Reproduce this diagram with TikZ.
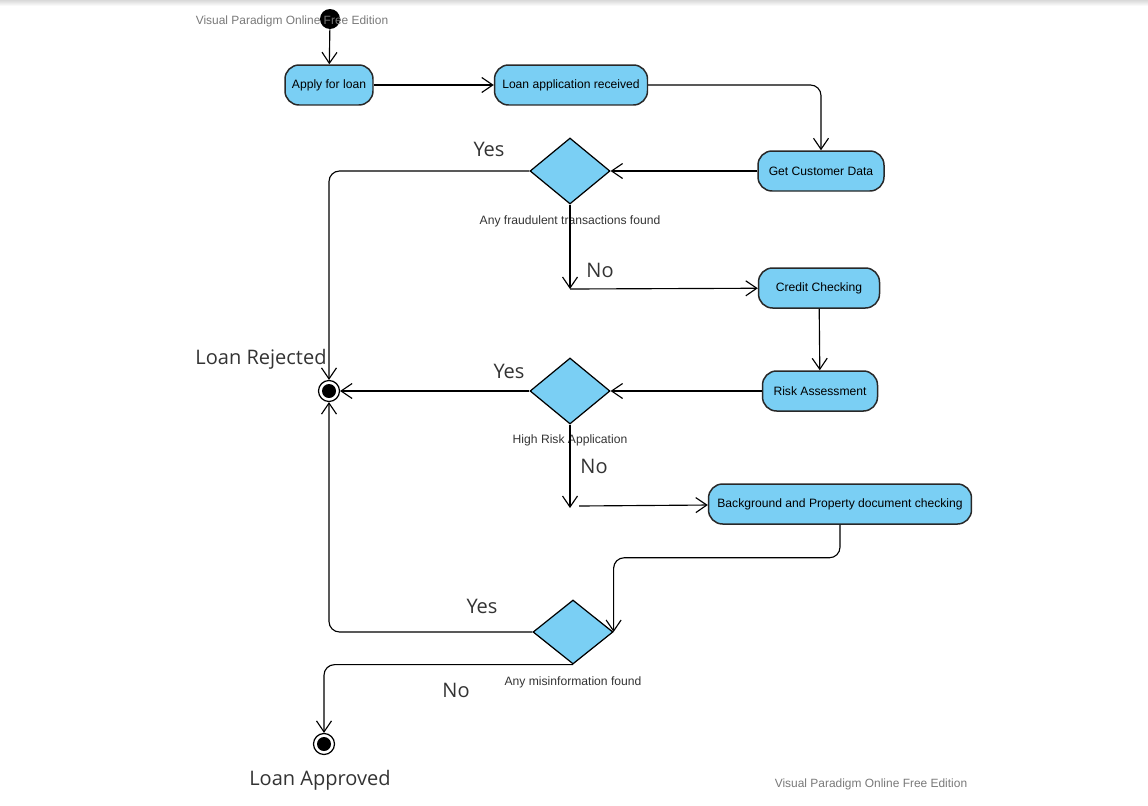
\documentclass[tikz,border=0pt]{standalone}
\usepackage{fontspec}
\setmainfont{Liberation Sans}
\newfontfamily\bigfont{Open Sans}
\usetikzlibrary{positioning, calc, shapes, arrows.meta}

\definecolor{actblue}{RGB}{122,207,244}
\definecolor{edgegray}{RGB}{40,40,40}
\definecolor{markgray}{RGB}{120,120,120}

\begin{document}
\begin{tikzpicture}[x=0.02cm, y=-0.02cm,
  act/.style={rectangle, rounded corners=8pt, draw=edgegray, line width=0.85pt, fill=actblue, minimum height=0.8cm, inner sep=2pt, font=\fontsize{6.9}{8}\selectfont},
  dec/.style={diamond, draw=black, line width=0.7pt, fill=actblue, minimum width=1.6cm, minimum height=1.32cm, inner sep=0pt},
  endst/.style={circle, draw=black, line width=0.7pt, minimum size=0.42cm, inner sep=0pt, path picture={\fill (path picture bounding box.center) circle (0.14cm);}},
  flow/.style={draw=black, line width=0.65pt, -{Straight Barb[length=2.2mm, width=3mm]}},
  answer/.style={font=\bigfont\fontsize{11.4}{13}\selectfont, text=black!80},
  cond/.style={font=\fontsize{6.9}{8}\selectfont, text=black!80},
  wmark/.style={font=\fontsize{6.8}{8}\selectfont, text=markgray}]
  \useasboundingbox (0,0) rectangle (1148,805);
  \shade[top color=black!15, bottom color=white] (0,0) rectangle (1148,6);

  % states
  \node[circle, fill=black, minimum size=0.4cm, inner sep=0pt] (start) at (330,19) {};
  \node[wmark] (wm1) at (292,21) {Visual Paradigm Online Free Edition};
  \node[act, minimum width=1.76cm] (apply) at (329,85) {Apply for loan};
  \node[act, minimum width=3.06cm] (recv) at (571,85) {Loan application received};
  \node[act, minimum width=2.52cm] (cust) at (821,171) {Get Customer Data};
  \node[dec] (d1) at (570,171) {};
  \node[act, minimum width=2.42cm] (credit) at (819,288) {Credit Checking};
  \node[act, minimum width=2.3cm] (risk) at (820,391) {Risk Assessment};
  \node[dec] (d2) at (570,391) {};
  \node[act, minimum width=5.26cm] (bgc) at (840,504) {Background and Property document checking};
  \node[dec, minimum height=1.28cm] (d3) at (573,632) {};
  \node[endst] (rej) at (329,391) {};
  \node[endst] (appr) at (324,744) {};
  \coordinate (c1) at (570,289);
  \coordinate (c2) at (570,508);
  \coordinate (c3) at (579,506);

  % labels
  \node[answer] (rejlbl) at (261,359) {Loan Rejected};
  \node[answer] (applbl) at (320,780) {Loan Approved};
  \node[answer] (yes1) at (489,149) {Yes};
  \node[answer] (no1) at (600,270) {No};
  \node[answer] (yes2) at (509,371) {Yes};
  \node[answer] (no2) at (594,466) {No};
  \node[answer] (yes3) at (482,606) {Yes};
  \node[answer] (no3) at (456,690) {No};
  \node[cond] (q1) at (570,221) {Any fraudulent transactions found};
  \node[cond] (q2) at (570,440) {High Risk Application};
  \node[cond] (q3) at (573,682) {Any misinformation found};
  \node[wmark] (wm2) at (871,784) {Visual Paradigm Online Free Edition};

  % transitions
  \draw[flow] (start) -- (apply);
  \draw[flow] (apply) -- (recv);
  \draw[flow, rounded corners=6pt] (recv.east) -| (cust.north);
  \draw[flow] (cust) -- (d1);
  \draw[flow, rounded corners=6pt] (d1.west) -| (rej.north);
  \draw[flow] (d1.south) -- (c1);
  \draw[flow] (c1) -- (credit);
  \draw[flow] (credit) -- (risk);
  \draw[flow] (risk) -- (d2);
  \draw[flow] (d2) -- (rej);
  \draw[flow] (d2.south) -- (c2);
  \draw[flow] (c3) -- (bgc);
  \draw[flow, rounded corners=6pt] (bgc.south) -- ++(0,33) -| (d3.east);
  \draw[flow, rounded corners=6pt] (d3.west) -| (rej.south);
  \draw[flow, rounded corners=6pt] (d3.south) -| (appr.north);
\end{tikzpicture}
\end{document}
